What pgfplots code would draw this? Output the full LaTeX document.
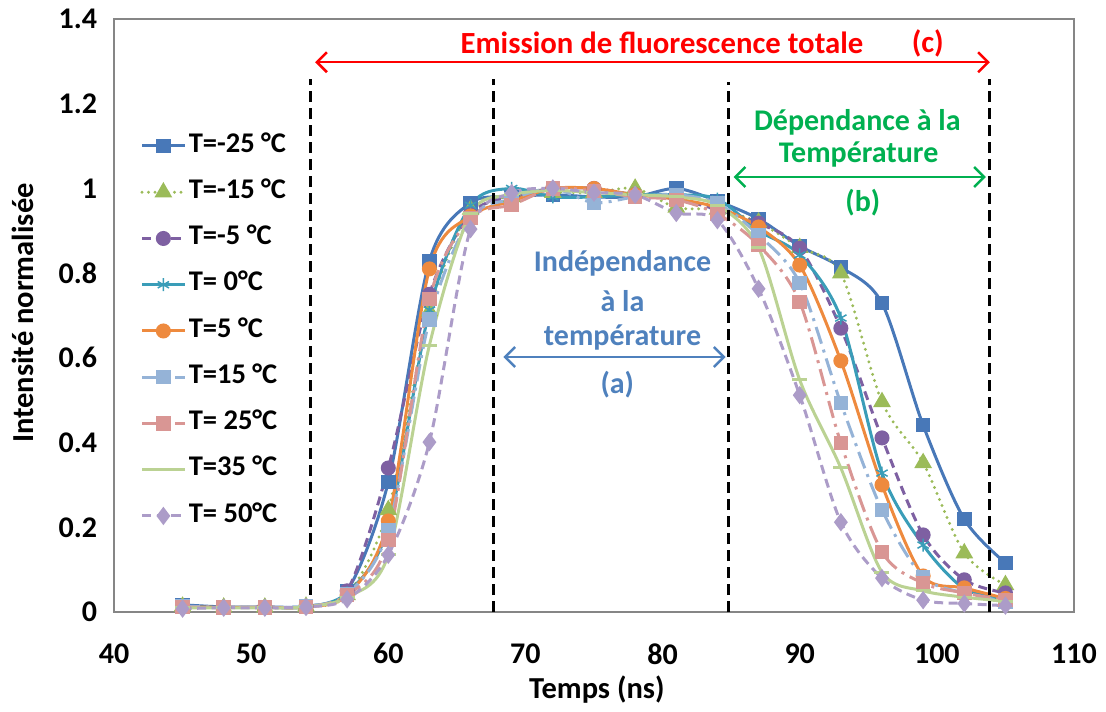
\documentclass[border=0pt]{standalone}
\usepackage{fontspec}
\setmainfont{Carlito}
\usepackage{pgfplots}
\usepackage{pgfplotstable}
\pgfplotsset{compat=1.18}
\usetikzlibrary{arrows.meta,calc}

\definecolor{cA}{HTML}{4878B8}
\definecolor{cB}{HTML}{9BBB59}
\definecolor{cC}{HTML}{7E60A2}
\definecolor{cD}{HTML}{3A9DB8}
\definecolor{cE}{HTML}{EE8A3E}
\definecolor{cF}{HTML}{95B3D7}
\definecolor{cG}{HTML}{D99694}
\definecolor{cH}{HTML}{BBD293}
\definecolor{cI}{HTML}{AC9CC8}
\definecolor{axgray}{HTML}{868686}
\definecolor{annred}{HTML}{FF0000}
\definecolor{anngreen}{HTML}{00B050}
\definecolor{annblue}{HTML}{4F81BD}

\pgfplotstableread{
t m25 m15 m5 z p5 p15 p25 p35 p50
45 0.017 0.013 0.012 0.012 0.012 0.014 0.012 0.010 0.008
48 0.012 0.011 0.011 0.011 0.011 0.011 0.011 0.010 0.010
51 0.012 0.011 0.011 0.011 0.011 0.011 0.011 0.010 0.010
54 0.014 0.013 0.013 0.012 0.012 0.013 0.012 0.012 0.012
57 0.050 0.040 0.050 0.045 0.040 0.042 0.040 0.035 0.030
60 0.307 0.241 0.340 0.200 0.215 0.194 0.170 0.135 0.135
63 0.829 0.710 0.750 0.713 0.810 0.690 0.739 0.630 0.401
66 0.966 0.950 0.940 0.960 0.935 0.930 0.930 0.940 0.904
69 0.980 0.980 0.980 1.000 0.970 0.975 0.961 0.985 0.989
72 0.985 0.990 1.000 0.980 1.000 1.000 1.000 0.995 1.000
75 0.980 0.990 1.000 0.980 1.000 0.966 0.994 0.990 0.990
78 0.980 1.000 0.985 0.985 0.985 0.980 0.980 0.985 0.985
81 1.000 0.955 0.975 0.985 0.975 0.985 0.973 0.980 0.942
84 0.970 0.950 0.950 0.975 0.955 0.965 0.940 0.960 0.925
87 0.928 0.920 0.918 0.900 0.909 0.890 0.866 0.860 0.763
90 0.864 0.860 0.859 0.843 0.819 0.777 0.732 0.548 0.512
93 0.814 0.800 0.670 0.694 0.593 0.493 0.399 0.340 0.212
96 0.729 0.496 0.411 0.328 0.300 0.241 0.142 0.094 0.080
99 0.441 0.352 0.182 0.158 0.085 0.083 0.068 0.050 0.028
102 0.219 0.139 0.076 0.055 0.057 0.045 0.045 0.035 0.020
105 0.116 0.064 0.045 0.032 0.032 0.025 0.028 0.025 0.015
}\data

\begin{document}
\begin{tikzpicture}
\begin{axis}[
  name=ax,
  scale only axis,
  width=384pt, height=237.2pt,
  xmin=40, xmax=110, ymin=0, ymax=1.4,
  xtick={40,50,60,70,80,90,100,110},
  ytick={0,0.2,0.4,0.6,0.8,1,1.2,1.4},
  major tick length=0pt,
  axis line style={draw=axgray, line width=0.6pt},
  /pgf/number format/assume math mode=true,
  tick label style={font=\fontsize{12}{14}\selectfont\bfseries},
  yticklabel style={xshift=-3.2pt},
  xticklabel style={yshift=-9pt},
  xlabel={Temps (ns)},
  ylabel={Intensité normalisée},
  xlabel style={at={(axis description cs:0.503,0)}, anchor=center, yshift=-31.2pt, font=\fontsize{12.2}{14}\selectfont\bfseries},
  ylabel style={at={(axis description cs:-0.0948,0.504)}, anchor=center, font=\fontsize{12.2}{14}\selectfont\bfseries},
  clip=false,
  legend cell align=left,
  legend style={at={(axis description cs:0.027,0.812)}, anchor=north west, draw=none, fill=none,
    font=\fontsize{11.4}{13}\selectfont\bfseries, inner sep=0pt, row sep=6.5pt,
    nodes={inner sep=1pt, text height=7.5pt, text depth=2.5pt}},
]
\addplot[cA, line width=1.2pt, smooth, mark=square*, mark size=2.3pt, mark options={solid, fill=cA}] table[x=t,y=m25]{\data};
\addlegendentry{T=-25 °C}
\addplot[cB, line width=1.3pt, smooth, line cap=round, dash pattern=on 0pt off 2.6pt, mark=triangle*, mark size=2.8pt, mark options={solid, fill=cB}] table[x=t,y=m15]{\data};
\addlegendentry{T=-15 °C}
\addplot[cC, line width=1.2pt, smooth, dash pattern=on 3.6pt off 2.2pt, mark=*, mark size=2.4pt, mark options={solid, fill=cC}] table[x=t,y=m5]{\data};
\addlegendentry{T=-5 °C}
\addplot[cD, line width=1.2pt, smooth, mark=asterisk, mark size=2.6pt, mark options={solid, line width=0.6pt}] table[x=t,y=z]{\data};
\addlegendentry{T= 0°C}
\addplot[cE, line width=1.2pt, smooth, mark=*, mark size=2.4pt, mark options={solid, fill=cE}] table[x=t,y=p5]{\data};
\addlegendentry{T=5 °C}
\addplot[cF, line width=1.2pt, smooth, dash pattern=on 7pt off 2.5pt on 1.2pt off 2.5pt, mark=square*, mark size=2.3pt, mark options={solid, fill=cF}] table[x=t,y=p15]{\data};
\addlegendentry{T=15 °C}
\addplot[cG, line width=1.2pt, smooth, dash pattern=on 7pt off 2.5pt on 1.2pt off 2.5pt, mark=square*, mark size=2.3pt, mark options={solid, fill=cG}] table[x=t,y=p25]{\data};
\addlegendentry{T= 25°C}
\addplot[cH, line width=1.2pt, smooth, mark=-, mark size=3pt, mark options={solid, line width=1.2pt}] table[x=t,y=p35]{\data};
\addlegendentry{T=35 °C}
\addplot[cI, line width=1.2pt, smooth, dash pattern=on 3.6pt off 2.2pt, mark=diamond*, mark size=2.7pt, mark options={solid, fill=cI}] table[x=t,y=p50]{\data};
\addlegendentry{T= 50°C}

% dashed separators
\draw[black, line width=1.2pt, dash pattern=on 4.4pt off 2.4pt] (axis cs:54.3,0) -- (axis cs:54.3,1.258);
\draw[black, line width=1.2pt, dash pattern=on 4.4pt off 2.4pt] (axis cs:67.66,0) -- (axis cs:67.66,1.258);
\draw[black, line width=1.2pt, dash pattern=on 4.4pt off 2.4pt] (axis cs:84.82,0) -- (axis cs:84.82,1.252);
\draw[black, line width=1.2pt, dash pattern=on 4.4pt off 2.4pt] (axis cs:103.87,0) -- (axis cs:103.87,1.258);

% arrows
\draw[annred, line width=1pt, {Straight Barb[length=4pt,width=8pt]}-{Straight Barb[length=4pt,width=8pt]}] (axis cs:54.67,1.298) -- (axis cs:103.87,1.298);
\draw[anngreen, line width=1pt, {Straight Barb[length=4pt,width=8pt]}-{Straight Barb[length=4pt,width=8pt]}] (axis cs:85.18,1.027) -- (axis cs:103.58,1.027);
\draw[annblue, line width=1pt, {Straight Barb[length=4pt,width=8pt]}-{Straight Barb[length=4pt,width=8pt]}] (axis cs:68.39,0.602) -- (axis cs:84.6,0.602);

% texts
\node[annred, font=\fontsize{12.3}{14}\selectfont\bfseries] at (axis cs:79.96,1.343) {Emission de fluorescence totale};
\node[annred, font=\fontsize{12.3}{14}\selectfont\bfseries] at (axis cs:99.34,1.343) {(c)};
\node[anngreen, font=\fontsize{12}{14}\selectfont\bfseries] at (axis cs:94.2,1.157) {Dépendance à la};
\node[anngreen, font=\fontsize{12}{14}\selectfont\bfseries] at (axis cs:94.3,1.079) {Température};
\node[anngreen, font=\fontsize{12}{14}\selectfont\bfseries] at (axis cs:94.6,0.966) {(b)};
\node[annblue, font=\fontsize{12}{14}\selectfont\bfseries] at (axis cs:77.08,0.822) {Indépendance};
\node[annblue, font=\fontsize{12}{14}\selectfont\bfseries] at (axis cs:77.08,0.734) {à la};
\node[annblue, font=\fontsize{12}{14}\selectfont\bfseries] at (axis cs:77.08,0.649) {température};
\node[annblue, font=\fontsize{12}{14}\selectfont\bfseries] at (axis cs:76.7,0.536) {(a)};
\end{axis}
\pgfresetboundingbox
\path[use as bounding box] ($(ax.south west)+(-45.6pt,-39.6pt)$) rectangle ($(ax.north east)+(12.8pt,7.6pt)$);
\end{tikzpicture}
\end{document}
